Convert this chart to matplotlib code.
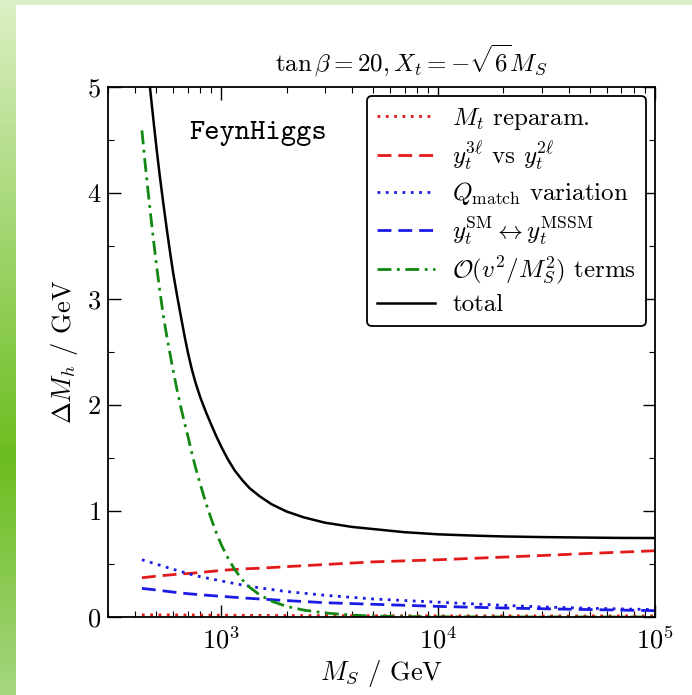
import numpy as np
import matplotlib
matplotlib.use("Agg")
import matplotlib.pyplot as plt
from matplotlib.ticker import MultipleLocator

plt.rcParams['font.family'] = 'serif'
plt.rcParams['font.serif'] = ['cmr10']
plt.rcParams['mathtext.fontset'] = 'cm'
plt.rcParams['axes.unicode_minus'] = False
plt.rcParams['axes.formatter.use_mathtext'] = True

# M_S grid (GeV) for the steep curves
m_steep = [430, 445, 460, 475, 490, 505, 520, 540, 560, 580, 600, 625, 650,
           675, 700, 730, 760, 800, 850, 900, 950, 1000, 1070, 1150, 1250,
           1350, 1500, 1700, 2000, 2400, 3000, 4000, 5000, 7000, 1e4, 1.5e4,
           2e4, 3e4, 5e4, 7e4, 1e5]
total = [5.78, 5.45, 5.15, 4.88, 4.62, 4.38, 4.16, 3.90, 3.66, 3.44, 3.24,
         3.03, 2.84, 2.66, 2.50, 2.34, 2.21, 2.07, 1.93, 1.81, 1.70, 1.605,
         1.49, 1.385, 1.29, 1.215, 1.14, 1.065, 0.995, 0.94, 0.89, 0.85,
         0.83, 0.80, 0.78, 0.767, 0.76, 0.754, 0.749, 0.746, 0.745]
ov2 = [4.59, 4.28, 4.00, 3.74, 3.50, 3.28, 3.08, 2.84, 2.65, 2.48, 2.32,
       2.14, 1.98, 1.84, 1.71, 1.55, 1.41, 1.25, 1.07, 0.92, 0.79, 0.68,
       0.56, 0.45, 0.35, 0.28, 0.21, 0.15, 0.10, 0.065, 0.038, 0.018, 0.009,
       0.004, 0.002, 0.001, 0, 0, 0, 0, 0]

# M_S grid (GeV) for the flat curves
m_flat = [430, 500, 600, 700, 800, 1000, 1300, 1500, 2000, 3000, 5000,
          1e4, 2e4, 3e4, 5e4, 1e5]
mt_reparam = [0.02, 0.02, 0.02, 0.019, 0.018, 0.017, 0.016, 0.015, 0.014,
              0.013, 0.012, 0.011, 0.011, 0.01, 0.01, 0.01]
yt_loop = [0.37, 0.385, 0.40, 0.41, 0.42, 0.44, 0.455, 0.46, 0.475, 0.495,
           0.52, 0.54, 0.565, 0.58, 0.60, 0.625]
q_match = [0.54, 0.50, 0.45, 0.41, 0.38, 0.34, 0.295, 0.275, 0.24, 0.205,
           0.17, 0.14, 0.11, 0.095, 0.082, 0.07]
yt_sm_mssm = [0.27, 0.255, 0.235, 0.22, 0.21, 0.195, 0.178, 0.17, 0.155,
              0.135, 0.12, 0.10, 0.085, 0.078, 0.07, 0.06]

fig = plt.figure(figsize=(6.92, 6.95), dpi=100)

# slide decoration: green strip on the left, light band on top
grad = np.array([0.0, 0.66, 1.0])
cols = np.array([[0.86, 0.94, 0.77], [0.42, 0.74, 0.12], [0.65, 0.84, 0.50]])
yy = np.linspace(0, 1, 200)
strip = np.stack([np.interp(yy, grad, cols[:, k]) for k in range(3)], axis=-1)
sax = fig.add_axes([0, 0, 16 / 692, 1])
sax.imshow(strip[:, None, :], aspect='auto', extent=[0, 1, 0, 1])
sax.axis('off')
tax = fig.add_axes([0, 1 - 5 / 695, 1, 5 / 695])
tax.set_facecolor('#dcf0c8')
tax.set_xticks([])
tax.set_yticks([])
for s in tax.spines.values():
    s.set_visible(False)

ax = fig.add_axes([108 / 692, 78 / 695, 547 / 692, 530 / 695])

ax.plot(m_flat, mt_reparam, color='#e41a1a', ls=(0, (1, 2)), lw=2,
        label=r'$M_t$ reparam.')
ax.plot(m_flat, yt_loop, color='#e41a1a', ls=(0, (5, 2.5)), lw=2,
        label=r'$y_t^{3\ell}$ vs $y_t^{2\ell}$')
ax.plot(m_flat, q_match, color='#1a1ae4', ls=(0, (1, 2)), lw=2,
        label=r'$Q_\mathrm{match}$ variation')
ax.plot(m_flat, yt_sm_mssm, color='#1a1ae4', ls=(0, (5, 2.5)), lw=2,
        label=r'$y_t^\mathrm{SM}\leftrightarrow y_t^\mathrm{MSSM}$')
ax.plot(m_steep, ov2, color='#118811', ls=(0, (5, 2, 1, 2)), lw=2,
        label=r'$\mathcal{O}(v^2/M_S^2)$ terms')
ax.plot(m_steep, total, color='k', lw=1.8, label='total')

ax.set_xscale('log')
ax.set_xlim(300, 1e5)
ax.set_ylim(0, 5)
ax.yaxis.set_major_locator(MultipleLocator(1))
ax.yaxis.set_minor_locator(MultipleLocator(0.5))
ax.tick_params(which='both', direction='in', top=True, right=True,
               labelsize=19)
ax.tick_params(axis='x', pad=7)
ax.tick_params(axis='y', pad=5)
ax.tick_params(which='major', length=9, width=1)
ax.tick_params(which='minor', length=4.5, width=0.8)
for s in ax.spines.values():
    s.set_linewidth(1.3)

ax.set_xlabel(r'$M_S$ / GeV', fontsize=19, labelpad=3)
ax.set_ylabel(r'$\Delta M_h$ / GeV', fontsize=19, labelpad=5)
ax.set_title(r'$\tan\beta = 20, X_t = -\sqrt{6}M_S$', fontsize=18, pad=11,
             x=0.555)

ax.text(0.275, 0.912, 'FeynHiggs', transform=ax.transAxes, ha='center',
        va='center', fontsize=21, family='cmtt10')

leg = ax.legend(loc='upper right', fontsize=18, handlelength=2.3,
                handletextpad=0.7, labelspacing=0.3, borderaxespad=0.35,
                fancybox=True, framealpha=1, edgecolor='k')
leg.get_frame().set_linewidth(1.3)

plt.savefig('out.png', dpi=100)
